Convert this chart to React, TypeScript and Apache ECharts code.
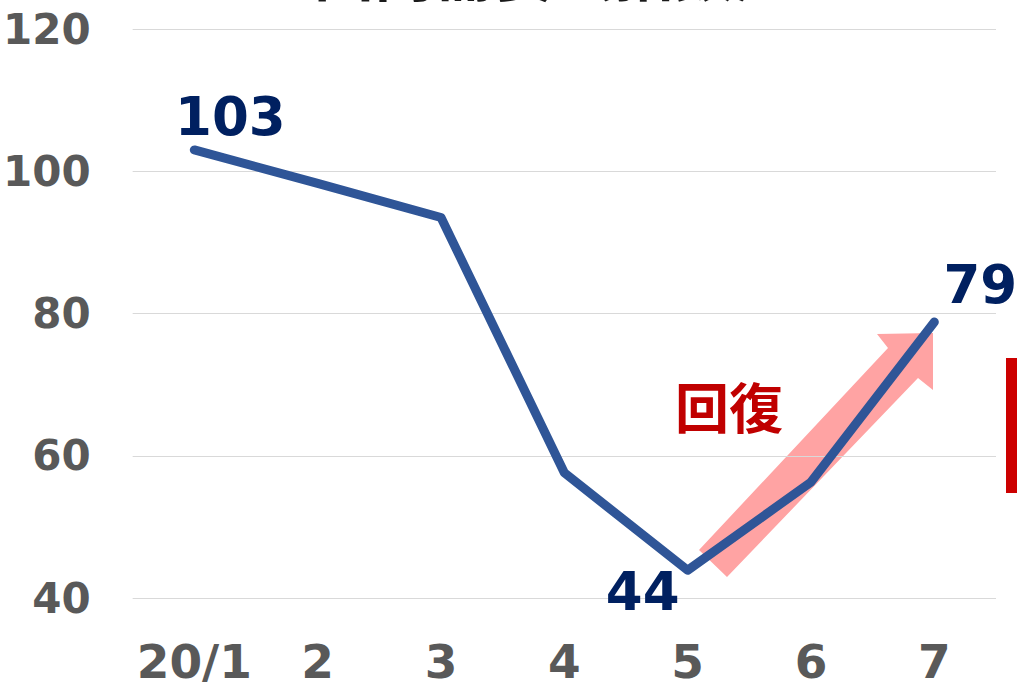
import React, { useEffect, useRef } from "react";
import * as echarts from "echarts";

const categories = ["20/1", "2", "3", "4", "5", "6", "7"];
const values = [103, 98.3, 93.5, 57.6, 43.9, 56.3, 78.8];
const labelTexts: (string | null)[] = ["103", null, null, null, "44", null, "79"];
const labelOffsets: ([number, number] | null)[] = [[36, -33], null, null, null, [-45, 21], null, [46, -38]];
const yTicks = { min: 40, max: 120, interval: 20 };
const titleText = "国内需要（指数）";
const annotationText = "回復";

const FONT = "'DejaVu Sans', 'Noto Sans', sans-serif";

export default function App() {
  const ref = useRef<HTMLDivElement>(null);
  useEffect(() => {
    if (!ref.current) return;
    const chart = echarts.init(ref.current, null, { renderer: "svg" });
    const data = values.map((v, i) => {
      const t = labelTexts[i];
      if (!t) return { value: v };
      return {
        value: v,
        label: {
          show: true,
          position: "inside",
          offset: labelOffsets[i],
          formatter: t,
          color: "#002060",
          fontSize: 53,
          fontWeight: "bold",
          fontFamily: FONT,
        },
      };
    });
    chart.setOption({
      animation: false,
      backgroundColor: "#ffffff",
      grid: { left: 131, right: 21, top: 29, bottom: 90 },
      xAxis: {
        type: "category",
        data: categories,
        boundaryGap: true,
        axisLine: { show: false },
        axisTick: { show: false },
        axisLabel: {
          interval: 0,
          color: "#595959",
          fontSize: 47,
          fontWeight: "bold",
          fontFamily: FONT,
          margin: 40,
        },
      },
      yAxis: {
        type: "value",
        min: yTicks.min,
        max: yTicks.max,
        interval: yTicks.interval,
        axisLine: { show: false },
        axisTick: { show: false },
        splitLine: { lineStyle: { color: "#d9d9d9", width: 1 } },
        axisLabel: {
          color: "#595959",
          fontSize: 42,
          fontWeight: "bold",
          fontFamily: FONT,
          margin: 42,
        },
      },
      graphic: [
        {
          type: "text",
          left: 314,
          top: -61,
          z: 10,
          style: {
            text: titleText,
            fill: "#1a1a1a",
            font: "bold 60px 'Noto Sans CJK JP'",
          },
        },
        {
          type: "polygon",
          z: 0,
          shape: {
            points: [
              [699, 550],
              [888, 348],
              [877, 334],
              [933, 333],
              [933, 390],
              [918, 378],
              [727, 577],
            ],
          },
          style: { fill: "#ffa3a3" },
        },
        {
          type: "text",
          x: 729,
          y: 405,
          z: 10,
          style: {
            text: annotationText,
            fill: "#c00000",
            font: "bold 54px 'Noto Sans CJK JP'",
            textAlign: "center",
            textVerticalAlign: "middle",
          },
        },
        {
          type: "rect",
          z: 10,
          shape: { x: 1006, y: 358, width: 11, height: 135 },
          style: { fill: "#cc0000" },
        },
      ],
      series: [
        {
          type: "line",
          data,
          z: 5,
          symbol: "circle",
          symbolSize: 1,
          itemStyle: { color: "rgba(0,0,0,0)" },
          lineStyle: { color: "#2f5597", width: 9, cap: "round", join: "round" },
          label: { show: false },
        },
      ],
    });
    return () => chart.dispose();
  }, []);
  return (
    <div
      ref={ref}
      style={{ position: "fixed", left: 0, top: 0, width: 1017, height: 688 }}
    />
  );
}
